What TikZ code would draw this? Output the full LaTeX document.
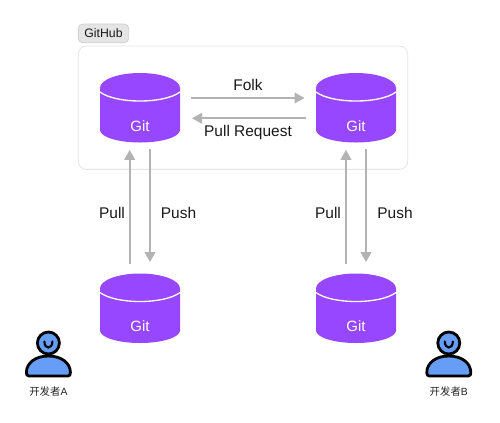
\documentclass[tikz,border=0pt]{standalone}
\usepackage{fontspec}
\setmainfont{Liberation Sans}
\newfontfamily\cjk{Noto Sans CJK SC}
\usetikzlibrary{calc,arrows.meta}
\definecolor{gitpurple}{HTML}{9747FF}
\definecolor{arrowgray}{HTML}{B3B3B3}
\definecolor{personblue}{HTML}{669DF6}
\tikzset{
  x=0.75pt,y=-0.75pt,
  flow/.style={draw=arrowgray,line width=1.25pt,-{Triangle[length=7.5pt,width=8pt]}},
  cylbox/.style={inner sep=0pt,outer sep=0pt,minimum width=60pt,minimum height=52pt},
  gitlabel/.style={text=white,font=\fontsize{11.2pt}{12pt}\selectfont,inner sep=0pt},
  flowlabel/.style={text=black!90,font=\fontsize{11.6pt}{13pt}\selectfont,inner sep=0pt},
  devlabel/.style={text=black!85,font=\fontsize{7.8pt}{9pt}\selectfont,inner sep=0pt},
  personshape/.style={draw=black,fill=personblue,line width=2.1pt,line join=round},
}
\newcommand{\gitcyl}[3]{% name, cx, top-y
  \fill[gitpurple] (#2-40,#3+15) arc[start angle=180,end angle=360,x radius=40,y radius=15]
    -- (#2+40,#3+57) arc[start angle=0,end angle=180,x radius=40,y radius=12.5] -- cycle;
  \draw[white,line width=1pt] (#2-40,#3+19) .. controls (#2-24,#3+31) and (#2+24,#3+31) .. (#2+40,#3+19);
  \node[cylbox] (#1) at (#2,#3+34.75) {};
  \node[gitlabel] (#1text) at (#2,#3+53) {Git};
}
\newcommand{\devperson}[3]{% name, cx, label
  \draw[personshape] (#2,343) circle[radius=11];
  \draw[black,line width=1.6pt,line cap=round] (#2-4,341.5) .. controls (#2-4,349.5) and (#2+4,349.5) .. (#2+4,341.5);
  \draw[personshape] (#2-19.5,376) .. controls (#2-21.5,376) and (#2-22,374.5) .. (#2-22,372.5)
     .. controls (#2-22,363) and (#2-13,356) .. (#2,356)
     .. controls (#2+13,356) and (#2+22,363) .. (#2+22,372.5)
     .. controls (#2+22,374.5) and (#2+21.5,376) .. (#2+19.5,376) -- cycle;
  \node[devlabel] (#1) at (#2,392) {{\cjk 开发者}#3};
}
\begin{document}
\begin{tikzpicture}
\useasboundingbox (0,0) rectangle (500,422);
\fill[white] (0,0) rectangle (500,422);
% container
\node[draw=black!10,line width=0.6pt,rounded corners=6pt,inner sep=0pt,minimum width=247pt,minimum height=92.5pt] (container) at (243,107.7) {};
\node[draw=black!20,fill=black!10,line width=0.5pt,rounded corners=3.5pt,inner sep=0pt,minimum width=38pt,minimum height=14pt,
      font=\fontsize{9.2pt}{10pt}\selectfont,text=black!90] (tag) at (103.5,33.4) {GitHub};
% cylinders
\gitcyl{ga}{140}{73}
\gitcyl{gb}{356}{73}
\gitcyl{gc}{140}{273.5}
\gitcyl{gd}{356}{273.5}
% arrows
\draw[flow] ($(ga.east)+(11,-9.75)$) -- ($(gb.west)+(-11.5,-9.75)$);
\draw[flow] ($(gb.west)+(-10.5,10.5)$) -- ($(ga.east)+(12,10.5)$);
\draw[flow] ($(gc.north)+(-10.3,-9.5)$) -- ($(ga.south)+(-10.3,7.5)$);
\draw[flow] ($(ga.south)+(10,6.5)$) -- ($(gc.north)+(10,-11.5)$);
\draw[flow] ($(gd.north)+(-10,-9.5)$) -- ($(gb.south)+(-10,7.5)$);
\draw[flow] ($(gb.south)+(10,6.5)$) -- ($(gd.north)+(10,-11.5)$);
% labels
\node[flowlabel] (folk) at (248,85) {Folk};
\node[flowlabel] (pr) at (248,132.5) {Pull Request};
\node[flowlabel] (pulla) at (112,213) {Pull};
\node[flowlabel] (pusha) at (178.5,213) {Push};
\node[flowlabel] (pullb) at (328,213) {Pull};
\node[flowlabel] (pushb) at (395,213) {Push};
% people
\devperson{deva}{48.4}{A}
\devperson{devb}{448.8}{B}
\end{tikzpicture}
\end{document}
